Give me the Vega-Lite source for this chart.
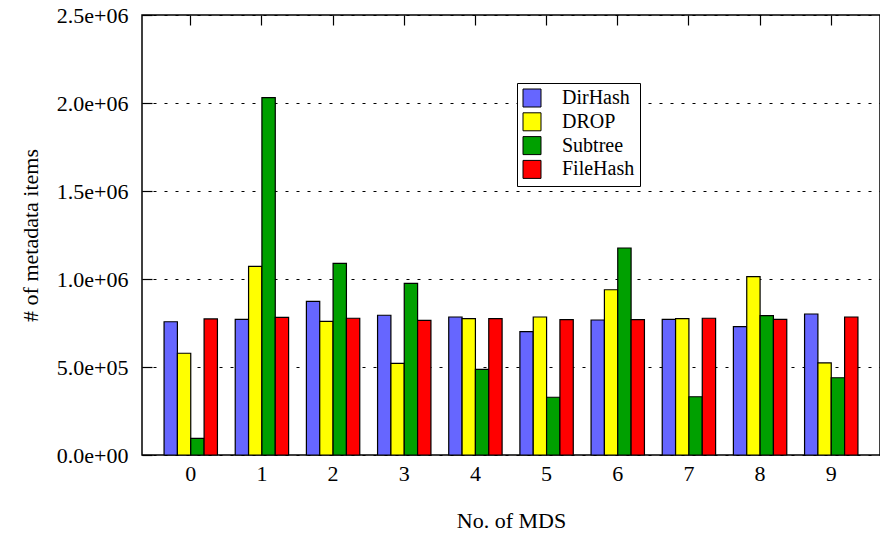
{
  "$schema": "https://vega.github.io/schema/vega-lite/v6.json",
  "autosize": "none",
  "width": 738,
  "height": 440,
  "padding": {"left": 142, "top": 15, "right": 0, "bottom": 80},
  "background": "white",
  "config": {
    "font": "Liberation Serif",
    "view": {"stroke": "black", "strokeWidth": 1.5},
    "axis": {
      "labelFont": "Liberation Serif",
      "labelFontSize": 22,
      "labelColor": "black",
      "titleFont": "Liberation Serif",
      "titleFontSize": 22,
      "titleFontWeight": "normal",
      "titleColor": "black",
      "domainColor": "black",
      "tickColor": "black"
    },
    "legend": {"strokeWidth": 1}
  },
  "data": {
    "values": [
      {"mds": 0, "scheme": "DirHash", "items": 757000},
      {"mds": 0, "scheme": "DROP", "items": 578000},
      {"mds": 0, "scheme": "Subtree", "items": 95000},
      {"mds": 0, "scheme": "FileHash", "items": 773000},
      {"mds": 1, "scheme": "DirHash", "items": 771000},
      {"mds": 1, "scheme": "DROP", "items": 1072000},
      {"mds": 1, "scheme": "Subtree", "items": 2030000},
      {"mds": 1, "scheme": "FileHash", "items": 782000},
      {"mds": 2, "scheme": "DirHash", "items": 873000},
      {"mds": 2, "scheme": "DROP", "items": 759000},
      {"mds": 2, "scheme": "Subtree", "items": 1089000},
      {"mds": 2, "scheme": "FileHash", "items": 777000},
      {"mds": 3, "scheme": "DirHash", "items": 794000},
      {"mds": 3, "scheme": "DROP", "items": 521000},
      {"mds": 3, "scheme": "Subtree", "items": 975000},
      {"mds": 3, "scheme": "FileHash", "items": 765000},
      {"mds": 4, "scheme": "DirHash", "items": 784000},
      {"mds": 4, "scheme": "DROP", "items": 775000},
      {"mds": 4, "scheme": "Subtree", "items": 487000},
      {"mds": 4, "scheme": "FileHash", "items": 775000},
      {"mds": 5, "scheme": "DirHash", "items": 701000},
      {"mds": 5, "scheme": "DROP", "items": 784000},
      {"mds": 5, "scheme": "Subtree", "items": 328000},
      {"mds": 5, "scheme": "FileHash", "items": 769000},
      {"mds": 6, "scheme": "DirHash", "items": 767000},
      {"mds": 6, "scheme": "DROP", "items": 939000},
      {"mds": 6, "scheme": "Subtree", "items": 1176000},
      {"mds": 6, "scheme": "FileHash", "items": 769000},
      {"mds": 7, "scheme": "DirHash", "items": 771000},
      {"mds": 7, "scheme": "DROP", "items": 775000},
      {"mds": 7, "scheme": "Subtree", "items": 331000},
      {"mds": 7, "scheme": "FileHash", "items": 777000},
      {"mds": 8, "scheme": "DirHash", "items": 729000},
      {"mds": 8, "scheme": "DROP", "items": 1013000},
      {"mds": 8, "scheme": "Subtree", "items": 792000},
      {"mds": 8, "scheme": "FileHash", "items": 771000},
      {"mds": 9, "scheme": "DirHash", "items": 801000},
      {"mds": 9, "scheme": "DROP", "items": 523000},
      {"mds": 9, "scheme": "Subtree", "items": 439000},
      {"mds": 9, "scheme": "FileHash", "items": 784000}
    ]
  },
  "layer": [
    {
      "mark": {"type": "bar", "stroke": "black", "strokeWidth": 1.2, "opacity": 1},
      "encoding": {
        "x": {
          "field": "mds",
          "type": "ordinal",
          "scale": {"paddingInner": 0.25, "paddingOuter": 0.31},
          "axis": {
            "orient": "bottom",
            "title": "No. of MDS",
            "labelAngle": 0,
            "ticks": false,
            "domain": false,
            "labelPadding": 8,
            "titlePadding": 26
          }
        },
        "xOffset": {
          "field": "scheme",
          "type": "nominal",
          "sort": ["DirHash", "DROP", "Subtree", "FileHash"],
          "scale": {"paddingInner": 0, "paddingOuter": 0}
        },
        "y": {
          "field": "items",
          "type": "quantitative",
          "scale": {"domain": [0, 2500000], "nice": false},
          "axis": {
            "title": "# of metadata items",
            "values": [0, 500000, 1000000, 1500000, 2000000, 2500000],
            "labelExpr": "datum.value >= 1000000 ? format(datum.value / 1000000, '.1f') + 'e+06' : (datum.value > 0 ? format(datum.value / 100000, '.1f') + 'e+05' : '0.0e+00')",
            "domain": false,
            "tickSize": -10,
            "tickWidth": 1.2,
            "labelPadding": 24,
            "grid": true,
            "gridColor": "black",
            "gridDash": [3, 8],
            "gridWidth": 1,
            "gridOpacity": 1,
            "titlePadding": 14
          }
        },
        "color": {
          "field": "scheme",
          "type": "nominal",
          "scale": {
            "domain": ["DirHash", "DROP", "Subtree", "FileHash"],
            "range": ["#6666ff", "#ffff00", "#00a000", "#ff0000"]
          },
          "legend": {
            "orient": "none",
            "legendX": 375,
            "legendY": 68,
            "title": null,
            "padding": 5,
            "strokeColor": "black",
            "fillColor": "white",
            "symbolType": "square",
            "symbolSize": 324,
            "symbolStrokeColor": "black",
            "symbolStrokeWidth": 1,
            "symbolOpacity": 1,
            "labelFont": "Liberation Serif",
            "labelFontSize": 20,
            "labelColor": "black",
            "labelOffset": 20,
            "rowPadding": 1.8
          }
        }
      }
    },
    {
      "mark": {"type": "rule", "opacity": 0},
      "encoding": {
        "x": {
          "field": "mds",
          "type": "ordinal",
          "axis": {
            "orient": "top",
            "title": null,
            "labels": false,
            "domain": false,
            "ticks": true,
            "tickSize": -10,
            "tickWidth": 1.2
          }
        }
      }
    }
  ],
  "resolve": {"axis": {"x": "independent"}}
}
